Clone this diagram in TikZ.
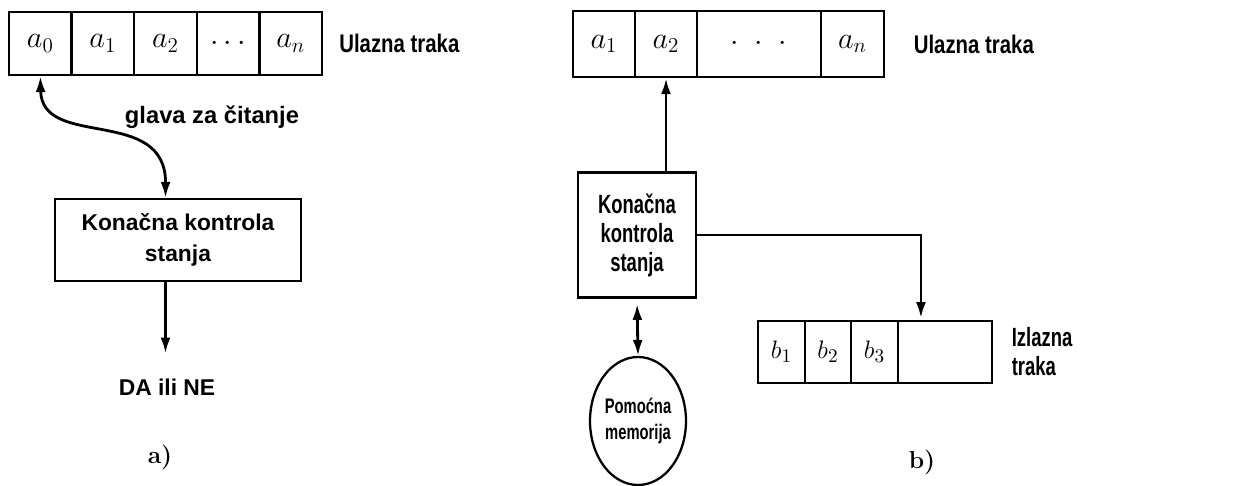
\documentclass[tikz,border=0pt]{standalone}
\usepackage{fontspec}
\newfontfamily\labfont[FakeStretch=0.8]{Liberation Sans}
\newfontfamily\nlabfont[FakeStretch=0.7]{Liberation Sans}
\newfontfamily\wlabfont{Liberation Sans}
\usetikzlibrary{calc,positioning,shapes.geometric,arrows.meta}

\begin{document}
\begin{tikzpicture}[x=0.02cm,y=-0.02cm,
		cell/.style={draw,line width=1.3pt,inner sep=0pt,font=\fontsize{17}{19}\selectfont},
		ctrl/.style={draw,line width=1.3pt,inner sep=0pt,align=center},
		lab/.style={font=\labfont\bfseries\fontsize{14.5}{16.5}\selectfont,align=left},
		nlab/.style={font=\nlabfont\bfseries\fontsize{15}{16.5}\selectfont,align=left},
		wlab/.style={font=\wlabfont\bfseries\fontsize{13}{18}\selectfont,align=center},
		arr/.style={line width=1.6pt,-{Latex[length=3.2mm,width=2mm]}},
		dbl/.style={line width=1.6pt,{Latex[length=3.2mm,width=2mm]}-{Latex[length=3.2mm,width=2mm]}}]
		\useasboundingbox (0,0) rectangle (1259,486);
		% input tape a)
		\foreach\t [count=\i from 0] in {a_0,a_1,a_2,\cdots,a_n}
		\node[cell,minimum width=1.252cm,minimum height=1.26cm] (L\i) at ({40.3+62.6*\i},43.5) {$\t$};
		% input tape b)
		\foreach\t/\xc/\w [count=\i] in {a_1/604/1.24,a_2/666/1.24,{{\cdot}\hspace{9pt}{\cdot}\hspace{9pt}{\cdot}}/759/2.48,a_n/852.5/1.26}
		\node[cell,minimum width=\w cm,minimum height=1.32cm] (R\i) at (\xc,44) {$\t$};
		% output tape
		\foreach\t/\xc/\w [count=\i] in {b_1/781.5/0.94,b_2/828/0.92,b_3/874.5/0.94,{}/945/1.88}
		\node[cell,font=\fontsize{15}{17}\selectfont,minimum width=\w cm,minimum height=1.24cm] (O\i) at (\xc,352) {\ensuremath{\t}};
		% control units
		\node[ctrl,wlab,minimum width=4.92cm,minimum height=1.64cm] (KL) at (178,240) {Konačna kontrola\\stanja};
		\node[ctrl,nlab,align=center,minimum width=2.36cm,minimum height=2.5cm] (KR) at (637,235) {Konačna\\kontrola\\stanja};
		% memory
		\node[draw,ellipse,line width=1.3pt,inner sep=0pt,minimum width=1.92cm,minimum height=2.56cm,
			align=center,font=\nlabfont\bfseries\fontsize{12}{14.5}\selectfont] (mem) at (638,421) {Pomoćna\\memorija};
		% labels
		\node[lab,right=0.2cm of L4] (inL) {Ulazna traka};
		\node[lab,right=0.45cm of R4] (inR) {Ulazna traka};
		\node[nlab,right=0.25cm of O4] (out) {Izlazna\\traka};
		\node[wlab,font=\wlabfont\bfseries\fontsize{13.5}{16}\selectfont] (head) at (212,117) {glava za čitanje};
		\node[wlab] (DA) at (167,387) {DA ili NE};
		\node[font=\bfseries\fontsize{14}{16}\selectfont] (pa) at (160,457) {a)};
		\node[font=\bfseries\fontsize{14}{16}\selectfont] (pb) at (922,462) {b)};
		% arrows
		\draw[dbl] (L0.south) .. controls (42,150) and (166,105) .. (KL.north -| L2);
		\draw[arr,shorten >=0.38cm] (KL.south -| L2) -- (DA.north -| L2);
		\draw[arr] (KR.north -| R2) -- (R2.south);
		\draw[arr,shorten >=1pt] (KR.east) -| ($(O4.north west)!0.5!(O4.north)$);
		\draw[dbl,shorten <=3pt] (KR.south) -- (mem.north);
	\end{tikzpicture}
\end{document}
